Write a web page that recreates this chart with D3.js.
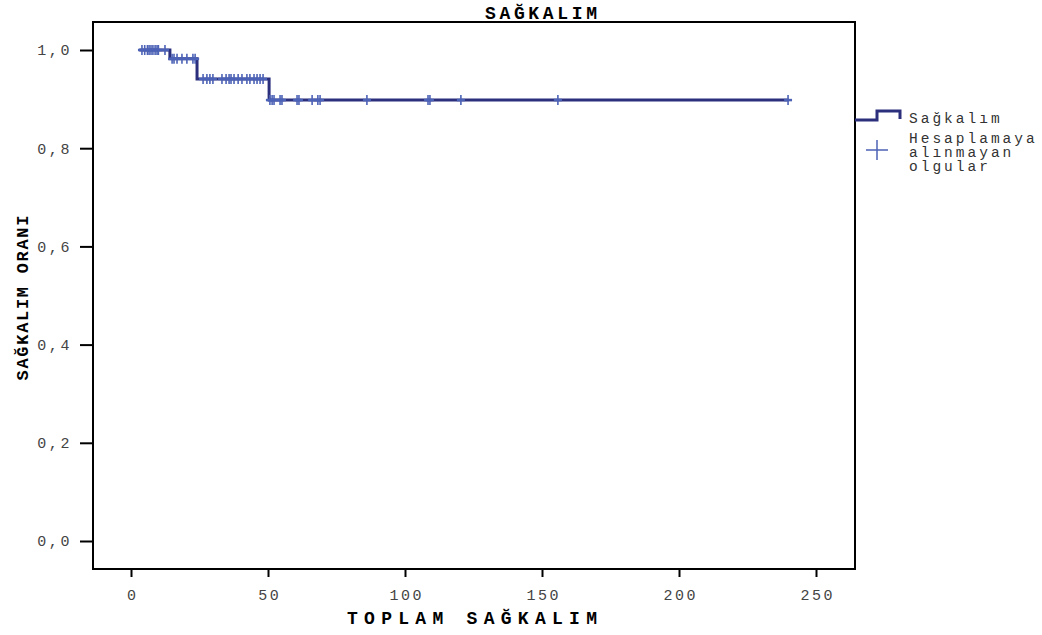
<!DOCTYPE html>
<html>
<head>
<meta charset="utf-8">
<script src="https://cdn.jsdelivr.net/npm/d3@7/dist/d3.min.js"></script>
<style>
  html, body { margin: 0; padding: 0; background: #fff; }
  svg { display: block; }
  .mono { font-family: "Liberation Mono", "DejaVu Sans Mono", monospace; }
</style>
</head>
<body>
<svg id="chart" width="1042" height="635"></svg>
<script>
// Kaplan-Meier survival: step times and survival proportion after each step
const stepTimes = [3, 14.2, 24.1, 50.4, 240];
const stepSurvival = [1.0, 0.982, 0.941, 0.898, 0.898];

// Censored cases (time in months)
const censorTimes = [
  4, 5, 6, 6.6, 7.3, 8, 8.8, 9.5, 10, 12.4,
  15, 15.7, 16.8, 18.6, 20.4, 22.6, 23.4,
  26.3, 27.7, 28.8, 29.9, 33.2, 34.7, 35.8, 36.5, 37.6, 39.1, 40.5, 42.3, 43.4, 44.9, 46, 47.1, 48.2,
  50.7, 51.5, 52.2, 54.4, 55.1, 60.6, 61.3, 66.1, 68.2, 69, 86.1, 108.4, 109.1, 120.4, 155.8, 239.8
];

const xTicks = [0, 50, 100, 150, 200, 250];
const yTicks = [0, 0.2, 0.4, 0.6, 0.8, 1.0];

const titleText = "SAĞKALIM";
const xTitle = "TOPLAM SAĞKALIM";
const yTitle = "SAĞKALIM ORANI";
const legendLabels = ["Sağkalım", ["Hesaplamaya", "alınmayan", "olgular"]];

const lineColor = "#2b2f7c";
const censorColor = "#4c62b6";

const svg = d3.select("#chart");
const frame = { left: 93, right: 855, top: 22, bottom: 569 };

const x = d3.scaleLinear().domain([0, 250]).range([131, 816]);
const y = d3.scaleLinear().domain([0, 1]).range([541, 50]);

const fmt = d => d3.format(".1f")(d).replace(".", ",");

// Plot frame
svg.append("rect")
  .attr("x", frame.left).attr("y", frame.top)
  .attr("width", frame.right - frame.left).attr("height", frame.bottom - frame.top)
  .attr("fill", "none").attr("stroke", "#000").attr("stroke-width", 2);

// Axes
const yAxis = svg.append("g")
  .attr("transform", `translate(${frame.left},0)`)
  .call(d3.axisLeft(y).tickValues(yTicks).tickFormat(fmt).tickSize(13).tickPadding(8));
const xAxis = svg.append("g")
  .attr("transform", `translate(0,${frame.bottom})`)
  .call(d3.axisBottom(x).tickValues(xTicks).tickSize(8).tickPadding(12));

[yAxis, xAxis].forEach(g => {
  g.select(".domain").remove();
  g.selectAll(".tick line").attr("stroke", "#000").attr("stroke-width", 2);
  g.selectAll(".tick text")
    .attr("class", "mono")
    .attr("fill", "#444")
    .style("font-size", "15px")
    .style("letter-spacing", "2.6px");
});
xAxis.selectAll(".tick text").attr("dx", "1.3px");

// Survival curve
const survLine = d3.line()
  .x(d => x(d[0]))
  .y(d => y(d[1]))
  .curve(d3.curveStepAfter);

svg.append("path")
  .datum(stepTimes.map((t, i) => [t, stepSurvival[i]]))
  .attr("d", survLine)
  .attr("fill", "none")
  .attr("stroke", lineColor)
  .attr("stroke-width", 3);

// Survival level at time t
function survAt(t) {
  let s = stepSurvival[0];
  stepTimes.forEach((st, i) => { if (t >= st) s = stepSurvival[i]; });
  return s;
}

// Censor marks
const marks = svg.append("g");
censorTimes.forEach(t => {
  const cx = x(t), cy = y(survAt(t));
  marks.append("line")
    .attr("x1", cx - 4).attr("x2", cx + 4).attr("y1", cy).attr("y2", cy)
    .attr("stroke", censorColor).attr("stroke-width", 2.5);
  marks.append("line")
    .attr("x1", cx).attr("x2", cx).attr("y1", cy - 5).attr("y2", cy + 5)
    .attr("stroke", censorColor).attr("stroke-width", 1.6);
});

// Titles
svg.append("text")
  .attr("class", "mono")
  .attr("x", 541).attr("y", 19)
  .attr("text-anchor", "middle")
  .attr("textLength", 112).attr("lengthAdjust", "spacing")
  .style("font-size", "18px").style("font-weight", "bold")
  .text(titleText);

svg.append("text")
  .attr("class", "mono")
  .attr("x", 472).attr("y", 624)
  .attr("text-anchor", "middle")
  .attr("textLength", 250).attr("lengthAdjust", "spacing")
  .style("font-size", "18px").style("font-weight", "bold")
  .text(xTitle);

svg.append("text")
  .attr("class", "mono")
  .attr("transform", "translate(28,298) rotate(-90)")
  .attr("text-anchor", "middle")
  .attr("textLength", 165).attr("lengthAdjust", "spacing")
  .style("font-size", "17px").style("font-weight", "bold")
  .text(yTitle);

// Legend
const legend = svg.append("g");
legend.append("path")
  .attr("d", "M855,120 H877 V111 H900 V119")
  .attr("fill", "none").attr("stroke", lineColor).attr("stroke-width", 3);
legend.append("text")
  .attr("class", "mono")
  .attr("x", 909).attr("y", 123)
  .attr("fill", "#333")
  .style("font-size", "14.5px").style("letter-spacing", "3px")
  .text(legendLabels[0]);
legend.append("line")
  .attr("x1", 866).attr("x2", 888).attr("y1", 150).attr("y2", 150)
  .attr("stroke", censorColor).attr("stroke-width", 1.5);
legend.append("line")
  .attr("x1", 877).attr("x2", 877).attr("y1", 140).attr("y2", 160)
  .attr("stroke", censorColor).attr("stroke-width", 1.5);
legendLabels[1].forEach((s, i) => {
  legend.append("text")
    .attr("class", "mono")
    .attr("x", 909).attr("y", 143 + i * 14)
    .attr("fill", "#333")
    .style("font-size", "14.5px").style("letter-spacing", "3px")
    .text(s);
});
</script>
</body>
</html>
